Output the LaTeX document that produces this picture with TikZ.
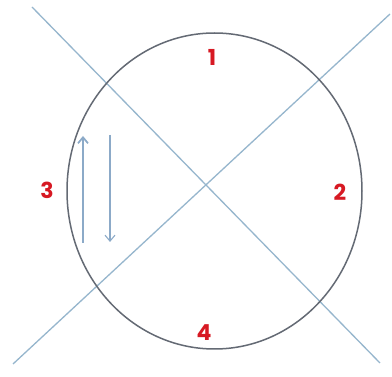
\documentclass[tikz,border=0pt]{standalone}
\usepackage{fontspec}
\newfontfamily\lblfont{Poppins}
\usetikzlibrary{arrows.meta,shapes.geometric}
\definecolor{ringcol}{RGB}{100,106,116}
\definecolor{crosscol}{RGB}{150,182,205}
\definecolor{arrcol}{RGB}{140,170,200}
\definecolor{numred}{RGB}{215,25,35}
\tikzset{
  ring/.style={draw=ringcol,line width=1.5pt},
  crossline/.style={draw=crosscol,line width=1.3pt},
  flowarrow/.style={draw=arrcol,-{Straight Barb[length=6pt,width=10pt]}},
  numlabel/.style={text=numred,font=\lblfont\bfseries\fontsize{22}{22}\selectfont,inner sep=0pt}
}
\begin{document}
\begin{tikzpicture}[x=1pt,y=-1pt]
\useasboundingbox (0,0) rectangle (392,377);
\fill[white] (0,0) rectangle (392,377);
\coordinate (tl) at (32,7);
\coordinate (br) at (380,363);
\coordinate (tr) at (390,14);
\coordinate (bl) at (13,364);
\draw[crossline] (tl) -- (br);
\draw[crossline] (tr) -- (bl);
\node[ring,ellipse,minimum width=295pt,minimum height=316pt,inner sep=0pt] (circ) at (214.5,191) {};
\coordinate (ua) at (83,243);
\coordinate (ub) at (83,136);
\coordinate (da) at (110,135);
\coordinate (db) at (110,242);
\draw[flowarrow,line width=1.7pt] (ua) -- (ub);
\draw[flowarrow,line width=1.1pt] (da) -- (db);
\node[numlabel] (n1) at (212,57) {1};
\node[numlabel] (n2) at (340,192) {2};
\node[numlabel] (n3) at (47,190) {3};
\node[numlabel] (n4) at (204,333) {4};
\end{tikzpicture}
\end{document}
